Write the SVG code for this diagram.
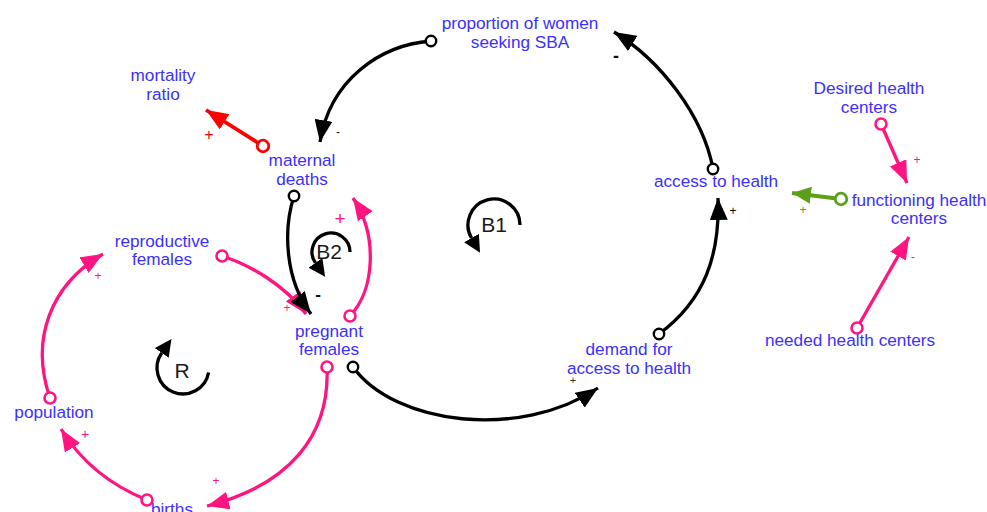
<svg xmlns="http://www.w3.org/2000/svg" width="987" height="512" viewBox="0 0 987 512">
<defs>
<style>
.lbl{font-family:"Liberation Sans",Arial,sans-serif;font-size:17.2px;fill:#3b30ff;text-anchor:middle}
.loop{font-family:"Liberation Sans",Arial,sans-serif;font-size:21px;fill:#1a1a1a;text-anchor:middle}
.sg{font-family:"Liberation Sans",Arial,sans-serif;text-anchor:middle}
.c{fill:none;stroke-width:3.3}
.k{stroke:#000}
.p{stroke:#ff1480}
.r{stroke:#ff0000;stroke-width:3.8}
.g{stroke:#5ca01a;stroke-width:3.8}
</style>
<marker id="ak" markerUnits="userSpaceOnUse" viewBox="0 0 22 18" refX="22" refY="9" markerWidth="22" markerHeight="18" orient="auto"><path d="M0,0 L22,9 L0,18 Z" fill="#000"/></marker>
<marker id="ap" markerUnits="userSpaceOnUse" viewBox="0 0 22 18" refX="22" refY="9" markerWidth="22" markerHeight="18" orient="auto"><path d="M0,0 L22,9 L0,18 Z" fill="#ff1480"/></marker>
<marker id="ar" markerUnits="userSpaceOnUse" viewBox="0 0 22 18" refX="22" refY="9" markerWidth="22" markerHeight="18" orient="auto"><path d="M0,0 L22,9 L0,18 Z" fill="#ff0000"/></marker>
<marker id="ag" markerUnits="userSpaceOnUse" viewBox="0 0 19 17" refX="19" refY="8.5" markerWidth="19" markerHeight="17" orient="auto"><path d="M0,0 L19,8.5 L0,17 Z" fill="#5ca01a"/></marker>
<marker id="al" markerUnits="userSpaceOnUse" viewBox="0 0 17 17" refX="0" refY="8.5" markerWidth="17" markerHeight="17" orient="auto"><path d="M0,0 L17,8.5 L0,17 Z" fill="#000"/></marker>
<marker id="ck" markerUnits="userSpaceOnUse" viewBox="-8 -8 16 16" refX="0" refY="0" markerWidth="16" markerHeight="16"><circle r="5.2" fill="#fff" stroke="#000" stroke-width="2.4"/></marker>
<marker id="cp" markerUnits="userSpaceOnUse" viewBox="-8 -8 16 16" refX="0" refY="0" markerWidth="16" markerHeight="16"><circle r="5.5" fill="#fff" stroke="#ff1480" stroke-width="2.6"/></marker>
<marker id="cr" markerUnits="userSpaceOnUse" viewBox="-8 -8 16 16" refX="0" refY="0" markerWidth="16" markerHeight="16"><circle r="5.8" fill="#fff" stroke="#ff0000" stroke-width="2.8"/></marker>
<marker id="cg" markerUnits="userSpaceOnUse" viewBox="-8 -8 16 16" refX="0" refY="0" markerWidth="16" markerHeight="16"><circle r="5.8" fill="#fff" stroke="#5ca01a" stroke-width="2.8"/></marker>
</defs>
<rect width="987" height="512" fill="#fff"/>

<g id="connectors">
<path class="c k" d="M431 41 C380 45 330 80 320 142" marker-start="url(#ck)" marker-end="url(#ak)"/>
<path class="c r" d="M263 146 L206 110" marker-start="url(#cr)" marker-end="url(#ar)"/>
<path class="c k" d="M713 169 C703 115 660 60 614 32" marker-start="url(#ck)" marker-end="url(#ak)"/>
<path class="c k" d="M659 334 C705 300 720 255 718 198" marker-start="url(#ck)" marker-end="url(#ak)"/>
<path class="c k" d="M353 367 C395 425 520 440 598 388" marker-start="url(#ck)" marker-end="url(#ak)"/>
<path class="c p" d="M222 256 C250 265 285 285 306 314" marker-start="url(#cp)" marker-end="url(#ap)"/>
<path class="c k" d="M294 196 C283 230 285 280 311 314" marker-start="url(#ck)" marker-end="url(#ak)"/>
<path class="c g" d="M841 199 L792 193" marker-start="url(#cg)" marker-end="url(#ag)"/>
<path class="c p" d="M881 124 L907 183" marker-start="url(#cp)" marker-end="url(#ap)"/>
<path class="c p" d="M857 328 L909 237" marker-start="url(#cp)" marker-end="url(#ap)"/>
<path class="c p" d="M350 316 C375 290 378 235 353 198" marker-start="url(#cp)" marker-end="url(#ap)"/>
<path class="c p" d="M327 367 C330 435 290 485 207 506" marker-start="url(#cp)" marker-end="url(#ap)"/>
<path class="c p" d="M147 500 C110 485 80 460 61 429" marker-start="url(#cp)" marker-end="url(#ap)"/>
<path class="c p" d="M50 398 C30 340 50 285 103 254" marker-start="url(#cp)" marker-end="url(#ap)"/>
</g>

<g id="polarities">
<text class="sg" x="338" y="136" font-size="12" fill="#222">-</text>
<text class="sg" x="209" y="140" font-size="16" fill="#ff0000">+</text>
<text class="sg" x="616" y="62" font-size="18" font-weight="bold" fill="#111">-</text>
<text class="sg" x="733" y="215" font-size="12" fill="#000">+</text>
<text class="sg" x="803" y="214" font-size="12" fill="#5ca01a">+</text>
<text class="sg" x="917" y="164" font-size="12" fill="#ff1480">+</text>
<text class="sg" x="913" y="261" font-size="12" fill="#ff1480">-</text>
<text class="sg" x="573" y="384" font-size="11" fill="#333">+</text>
<text class="sg" x="318" y="300" font-size="17" font-weight="bold" fill="#111">-</text>
<text class="sg" x="287" y="312" font-size="12" fill="#ff1480">+</text>
<text class="sg" x="340" y="225" font-size="19" fill="#ff1480">+</text>
<text class="sg" x="216" y="485" font-size="12" fill="#ff1480">+</text>
<text class="sg" x="85" y="439" font-size="14" fill="#ff1480">+</text>
<text class="sg" x="98" y="280" font-size="12" fill="#ff1480">+</text>
</g>

<g id="loops">
<g id="loop-B1">
<path class="c k" d="M520 225 A26 26 0 1 0 471.5 238" marker-end="url(#al)"/>
<text class="loop" x="494" y="232">B1</text>
</g>
<g id="loop-B2">
<path class="c k" d="M350 252 A19 19 0 1 0 315.4 262.9" marker-end="url(#al)"/>
<text class="loop" x="329" y="259">B2</text>
</g>
<g id="loop-R">
<path class="c k" d="M208.6 372.5 A26 26 0 1 1 161.7 353" marker-end="url(#al)"/>
<text class="loop" x="182" y="378">R</text>
</g>
</g>

<g id="node-proportion"><text class="lbl" x="520" y="29">proportion of women</text><text class="lbl" x="520" y="48">seeking SBA</text></g>
<g id="node-mortality"><text class="lbl" x="163" y="81">mortality</text><text class="lbl" x="163" y="100">ratio</text></g>
<g id="node-maternal"><text class="lbl" x="302" y="166">maternal</text><text class="lbl" x="302" y="185">deaths</text></g>
<g id="node-access"><text class="lbl" x="716" y="187">access to health</text></g>
<g id="node-desired"><text class="lbl" x="869" y="94">Desired health</text><text class="lbl" x="869" y="113">centers</text></g>
<g id="node-functioning"><text class="lbl" x="919" y="206">functioning health</text><text class="lbl" x="919" y="224">centers</text></g>
<g id="node-needed"><text class="lbl" x="850" y="346">needed health centers</text></g>
<g id="node-reproductive"><text class="lbl" x="162" y="247">reproductive</text><text class="lbl" x="162" y="265">females</text></g>
<g id="node-pregnant"><text class="lbl" x="329" y="337">pregnant</text><text class="lbl" x="329" y="355">females</text></g>
<g id="node-population"><text class="lbl" x="54" y="418">population</text></g>
<g id="node-births"><text class="lbl" x="172" y="515">births</text></g>
<g id="node-demand"><text class="lbl" x="629" y="355">demand for</text><text class="lbl" x="629" y="374">access to health</text></g>
</svg>
